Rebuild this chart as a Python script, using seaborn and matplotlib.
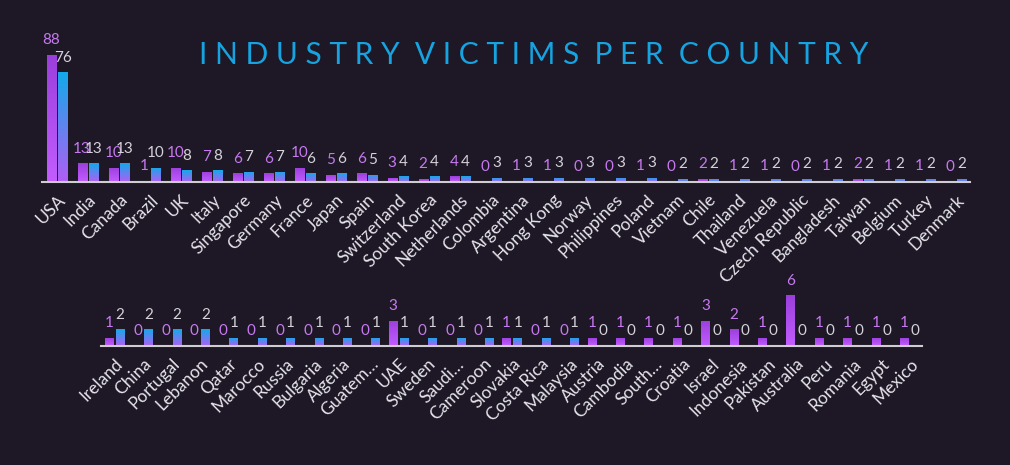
import numpy as np
import pandas as pd
import matplotlib
matplotlib.use("Agg")
import matplotlib.pyplot as plt
from matplotlib.colors import LinearSegmentedColormap
import seaborn as sns

# ---------------- data ----------------
countries_top = ["USA", "India", "Canada", "Brazil", "UK", "Italy", "Singapore", "Germany",
                 "France", "Japan", "Spain", "Switzerland", "South Korea", "Netherlands",
                 "Colombia", "Argentina", "Hong Kong", "Norway", "Philippines", "Poland",
                 "Vietnam", "Chile", "Thailand", "Venezuela", "Czech Republic", "Bangladesh",
                 "Taiwan", "Belgium", "Turkey", "Denmark"]
series_a_top = [88, 13, 10, 1, 10, 7, 6, 6, 10, 5, 6, 3, 2, 4, 0, 1, 1, 0, 0, 1,
                0, 2, 1, 1, 0, 1, 2, 1, 1, 0]
series_b_top = [76, 13, 13, 10, 8, 8, 7, 7, 6, 6, 5, 4, 4, 4, 3, 3, 3, 3, 3, 3,
                2, 2, 2, 2, 2, 2, 2, 2, 2, 2]

countries_bot = ["Ireland", "China", "Portugal", "Lebanon", "Qatar", "Marocco", "Russia",
                 "Bulgaria", "Algeria", "Guatem…", "UAE", "Sweden", "Saudi…", "Cameroon",
                 "Slovakia", "Costa Rica", "Malaysia", "Austria", "Cambodia", "South…",
                 "Croatia", "Israel", "Indonesia", "Pakistan", "Australia", "Peru",
                 "Romania", "Egypt", "Mexico"]
series_a_bot = [1, 0, 0, 0, 0, 0, 0, 0, 0, 0, 3, 0, 0, 0, 1, 0, 0, 1, 1, 1,
                1, 3, 2, 1, 6, 1, 1, 1, 1]
series_b_bot = [2, 2, 2, 2, 1, 1, 1, 1, 1, 1, 1, 1, 1, 1, 1, 1, 1, 0, 0, 0,
                0, 0, 0, 0, 0, 0, 0, 0, 0]

series_names = ["A", "B"]
title = "INDUSTRY VICTIMS PER COUNTRY"

# ---------------- style ----------------
BG = "#1d1726"
sns.set_theme(style="white")
plt.rcParams["font.family"] = ["Lato", "DejaVu Sans"]
plt.rcParams["axes.facecolor"] = BG
plt.rcParams["figure.facecolor"] = BG

purple_grad = ("#9b3fdc", "#c25cff")   # top -> bottom
blue_grad = ("#13a9ea", "#b05ef6")
label_cols = ["#c77af0", "#d4d2d8"]

fig = plt.figure(figsize=(10.1, 4.65), dpi=100)


def long_df(cats, a, b):
    return pd.DataFrame({
        "country": cats * 2,
        "value": list(a) + list(b),
        "series": [series_names[0]] * len(cats) + [series_names[1]] * len(cats),
    })


def draw(ax, cats, a, b, width, gap, xlim, ylim):
    df = long_df(cats, a, b)
    sns.barplot(data=df, x="country", y="value", hue="series", hue_order=series_names,
                order=cats, palette=["#a94be8", "#1aa6e8"], width=width, gap=gap,
                ax=ax, legend=False, errorbar=None, saturation=1)
    grads = [purple_grad, blue_grad]
    for ci, cont in enumerate(ax.containers):
        cmap = LinearSegmentedColormap.from_list("g", [grads[ci][0], grads[ci][1]])
        for bar in cont:
            h = bar.get_height()
            if h <= 0:
                continue
            x0, y0, w = bar.get_x(), bar.get_y(), bar.get_width()
            grad = np.linspace(0, 1, 64).reshape(-1, 1)
            im = ax.imshow(grad, cmap=cmap, extent=[x0, x0 + w, y0, y0 + h],
                           aspect="auto", origin="upper", zorder=bar.get_zorder(),
                           interpolation="bilinear")
            im.set_clip_path(bar)
            bar.set_facecolor("none")
            bar.set_edgecolor("none")
    ax.set_xlim(*xlim)
    ax.set_ylim(*ylim)
    for ci, cont in enumerate(ax.containers):
        ax.bar_label(cont, fmt="%d", padding=5.5, color=label_cols[ci], fontsize=11,
                     clip_on=False)
    ax.set_facecolor(BG)
    for s in ["top", "right", "left"]:
        ax.spines[s].set_visible(False)
    ax.spines["bottom"].set_color("#cfcdd2")
    ax.spines["bottom"].set_linewidth(1.5)
    ax.set_yticks([])
    ax.set_xlabel("")
    ax.set_ylabel("")
    ax.tick_params(axis="x", length=0, pad=7)
    ax.set_xticks(range(len(cats)))
    ax.set_xticklabels(cats, rotation=45, ha="right", va="top", rotation_mode="anchor",
                       color="#e6e4ea", fontsize=12.5)


# top chart
ax1 = fig.add_axes([42 / 1010, (465 - 182) / 465, 928 / 1010, 137 / 465])
draw(ax1, countries_top, series_a_top, series_b_top, width=0.74, gap=0.2,
     xlim=(-0.48, 29.45), ylim=(0, 95))

# bottom chart
ax2 = fig.add_axes([100.7 / 1010, (465 - 346) / 465, 821 / 1010, 59 / 465])
draw(ax2, countries_bot, series_a_bot, series_b_bot, width=0.78, gap=0.23,
     xlim=(-0.49, 28.42), ylim=(0, 7))

fig.text(0.528, (465 - 55.5) / 465, "  ".join(" ".join(w) for w in title.split()),
         ha="center", va="center", color="#16a3e0", fontsize=21.5)

fig.savefig("out.png", dpi=100, facecolor=BG)
